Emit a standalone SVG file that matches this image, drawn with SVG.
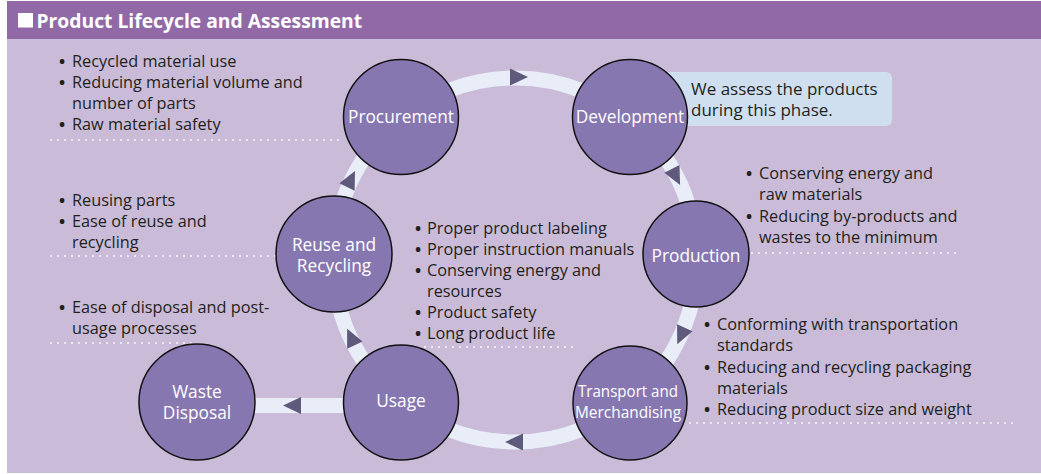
<svg xmlns="http://www.w3.org/2000/svg" width="1041" height="474" viewBox="0 0 1041 474">
<style>
.t{font-family:"Open Sans","Noto Sans","Liberation Sans",sans-serif;font-size:16.3px;fill:#231f20}
.b{font-weight:bold}
.lbl{font-family:"Open Sans","Noto Sans","Liberation Sans",sans-serif;font-size:17.3px;fill:#ffffff;text-anchor:middle}
.node{fill:#8777b1;stroke:#111111;stroke-width:1.5}
.dots{stroke:#f4f0f8;stroke-width:2.2;stroke-linecap:round;stroke-dasharray:0 7;fill:none}
.arr{fill:#5f5a7c}
</style>
<defs>
<path id="tri" d="M9,0 L-9,-8.5 L-9,8.5 Z"/>
</defs>
<rect x="0" y="0" width="1041" height="474" fill="#ffffff"/>
<rect x="7" y="39" width="1034" height="434" fill="#cabcd9"/>
<g id="header">
<rect x="7" y="1" width="1034" height="38" fill="#9269a7"/>
<rect x="18" y="13" width="15" height="14.5" fill="#ffffff"/>
<text x="36.5" y="27.5" font-family="'Open Sans','Noto Sans',sans-serif" font-weight="bold" font-size="19.3px" fill="#ffffff">Product Lifecycle and Assessment</text>
</g>
<g id="dotted-lines">
<line class="dots" x1="51" y1="140" x2="343" y2="140"/>
<line class="dots" x1="51" y1="256" x2="276" y2="256"/>
<line class="dots" x1="51" y1="343" x2="195" y2="343"/>
<line class="dots" x1="752" y1="253" x2="960" y2="253"/>
<line class="dots" x1="425" y1="347" x2="573" y2="347"/>
<line class="dots" x1="690" y1="423" x2="1013" y2="423"/>
</g>
<g id="connectors">
<circle cx="515" cy="260" r="182" fill="none" stroke="#e9edf7" stroke-width="15"/>
<rect x="250" y="398" width="100" height="15" fill="#e9edf7"/>
<use href="#tri" class="arr" transform="translate(519,77) rotate(0)"/>
<use href="#tri" class="arr" transform="translate(676,177) rotate(63)"/>
<use href="#tri" class="arr" transform="translate(681,336) rotate(114.6)"/>
<use href="#tri" class="arr" transform="translate(514,442) rotate(180)"/>
<use href="#tri" class="arr" transform="translate(351,337) rotate(244.7)"/>
<use href="#tri" class="arr" transform="translate(351,179) rotate(-63.6)"/>
<use href="#tri" class="arr" transform="translate(292,405.5) rotate(180)"/>
</g>
<g id="callout">
<rect x="640" y="72" width="252" height="54" rx="6" fill="#cfdff0"/>
<text class="t" x="691" y="95" style="font-size:17px">We assess the products</text>
<text class="t" x="691" y="116" style="font-size:17px">during this phase.</text>
</g>
<g id="node-procurement">
<circle class="node" cx="401" cy="117" r="57.5"/>
<text class="lbl" x="401" y="123">Procurement</text>
</g>
<g id="node-development">
<circle class="node" cx="630" cy="117" r="57.5"/>
<text class="lbl" x="630" y="123">Development</text>
</g>
<g id="node-production">
<circle class="node" cx="696" cy="254" r="53"/>
<text class="lbl" x="696" y="261.5">Production</text>
</g>
<g id="node-reuse">
<circle class="node" cx="334" cy="254" r="58"/>
<text class="lbl" x="334" y="250.5">Reuse and</text>
<text class="lbl" x="334" y="271.5">Recycling</text>
</g>
<g id="node-usage">
<circle class="node" cx="401" cy="402.5" r="57.5"/>
<text class="lbl" x="401" y="406.5">Usage</text>
</g>
<g id="node-transport">
<circle class="node" cx="630" cy="403" r="57"/>
<text class="lbl" x="628" y="396.5" style="font-size:16.5px" textLength="100" lengthAdjust="spacingAndGlyphs">Transport and</text>
<text class="lbl" x="628" y="417.5" style="font-size:16.5px" textLength="106" lengthAdjust="spacingAndGlyphs">Merchandising</text>
</g>
<g id="node-waste">
<circle class="node" cx="197" cy="402" r="58"/>
<text class="lbl" x="197" y="397.5">Waste</text>
<text class="lbl" x="197" y="418.5">Disposal</text>
</g>
<g id="text-procurement">
<text class="t" x="59" y="67"><tspan class="b">•</tspan><tspan x="72">Recycled material use</tspan></text>
<text class="t" x="59" y="88"><tspan class="b">•</tspan><tspan x="72">Reducing material volume and</tspan></text>
<text class="t" x="72" y="109">number of parts</text>
<text class="t" x="59" y="130"><tspan class="b">•</tspan><tspan x="72">Raw material safety</tspan></text>
</g>
<g id="text-reuse">
<text class="t" x="59" y="206"><tspan class="b">•</tspan><tspan x="72">Reusing parts</tspan></text>
<text class="t" x="59" y="227"><tspan class="b">•</tspan><tspan x="72">Ease of reuse and</tspan></text>
<text class="t" x="72" y="248">recycling</text>
</g>
<g id="text-waste">
<text class="t" x="59" y="313"><tspan class="b">•</tspan><tspan x="72">Ease of disposal and post-</tspan></text>
<text class="t" x="72" y="334">usage processes</text>
</g>
<g id="text-usage">
<text class="t" x="415" y="234"><tspan class="b">•</tspan><tspan x="427">Proper product labeling</tspan></text>
<text class="t" x="415" y="255"><tspan class="b">•</tspan><tspan x="427">Proper instruction manuals</tspan></text>
<text class="t" x="415" y="276"><tspan class="b">•</tspan><tspan x="427">Conserving energy and</tspan></text>
<text class="t" x="427" y="297">resources</text>
<text class="t" x="415" y="318"><tspan class="b">•</tspan><tspan x="427">Product safety</tspan></text>
<text class="t" x="415" y="339"><tspan class="b">•</tspan><tspan x="427">Long product life</tspan></text>
</g>
<g id="text-production">
<text class="t" x="746" y="179"><tspan class="b">•</tspan><tspan x="759">Conserving energy and</tspan></text>
<text class="t" x="759" y="200">raw materials</text>
<text class="t" x="746" y="221.5"><tspan class="b">•</tspan><tspan x="759">Reducing by-products and</tspan></text>
<text class="t" x="759" y="242.5">wastes to the minimum</text>
</g>
<g id="text-transport">
<text class="t" x="704" y="330"><tspan class="b">•</tspan><tspan x="717">Conforming with transportation</tspan></text>
<text class="t" x="717" y="351">standards</text>
<text class="t" x="704" y="372.5"><tspan class="b">•</tspan><tspan x="717">Reducing and recycling packaging</tspan></text>
<text class="t" x="717" y="393.5">materials</text>
<text class="t" x="704" y="415"><tspan class="b">•</tspan><tspan x="717">Reducing product size and weight</tspan></text>
</g>
</svg>
